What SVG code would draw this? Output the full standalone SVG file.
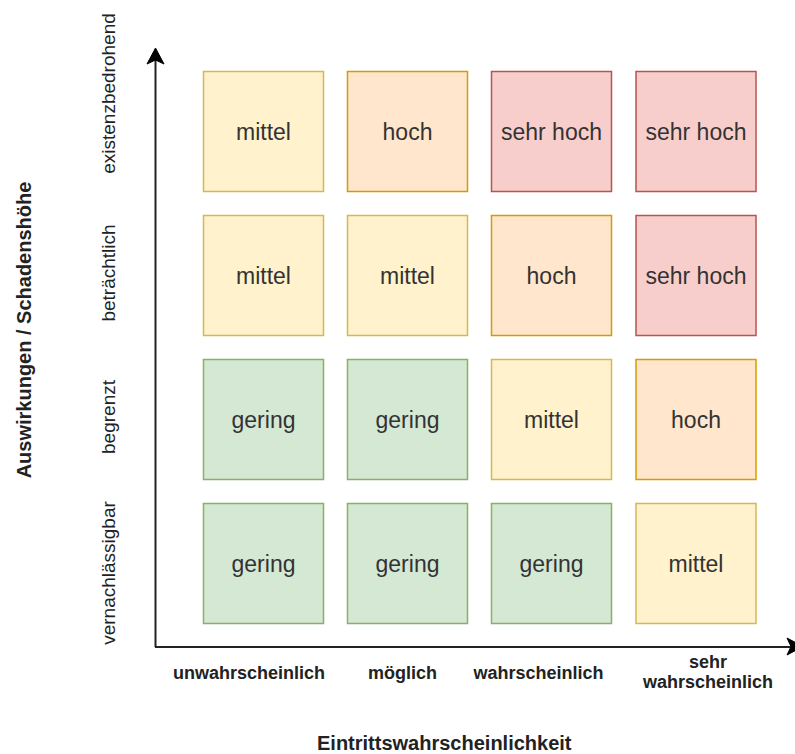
<svg xmlns="http://www.w3.org/2000/svg" width="795" height="754" viewBox="0 0 795 754">
<style>
.cell{stroke-width:1.5}
.y{fill:#fff2cc;stroke:#d6b656}
.o{fill:#ffe6cc;stroke:#d79b00}
.r{fill:#f8cecc;stroke:#b85450}
.g{fill:#d5e8d4;stroke:#82b366}
.ct{font-family:"Liberation Sans",Arial,sans-serif;font-size:23px;fill:#333;text-anchor:middle}
.rl{font-family:"Liberation Sans",Arial,sans-serif;font-size:19px;fill:#222;text-anchor:middle}
.cl{font-family:"Liberation Sans",Arial,sans-serif;font-size:18px;font-weight:bold;fill:#222;text-anchor:middle}
.ti{font-family:"Liberation Sans",Arial,sans-serif;font-size:20px;font-weight:bold;fill:#222}
.ax{stroke:#222;stroke-width:2;fill:none}
.ah{fill:#000;stroke:#000;stroke-width:1}
</style>
<rect width="795" height="754" fill="#fff"/>
<g id="connectors">
<path class="ax" d="M155.5 647 L155.5 58"/>
<path class="ax" d="M155 647 L792 647"/>
<path class="ah" d="M155.5 48 L164 64 L155.5 60 L147 64 Z"/>
<path class="ah" d="M803 646.5 L787 638 L791 646.5 L787 655 Z"/>
</g>
<g id="cell-1-1"><rect class="cell y" x="203.5" y="71.5" width="120" height="120"/><text class="ct" x="263.5" y="139.5">mittel</text></g>
<g id="cell-1-2"><rect class="cell o" x="347.5" y="71.5" width="120" height="120"/><text class="ct" x="407.5" y="139.5">hoch</text></g>
<g id="cell-1-3"><rect class="cell r" x="491.5" y="71.5" width="120" height="120"/><text class="ct" x="551.5" y="139.5">sehr hoch</text></g>
<g id="cell-1-4"><rect class="cell r" x="636" y="71.5" width="120" height="120"/><text class="ct" x="696" y="139.5">sehr hoch</text></g>
<g id="cell-2-1"><rect class="cell y" x="203.5" y="215.5" width="120" height="120"/><text class="ct" x="263.5" y="283.5">mittel</text></g>
<g id="cell-2-2"><rect class="cell y" x="347.5" y="215.5" width="120" height="120"/><text class="ct" x="407.5" y="283.5">mittel</text></g>
<g id="cell-2-3"><rect class="cell o" x="491.5" y="215.5" width="120" height="120"/><text class="ct" x="551.5" y="283.5">hoch</text></g>
<g id="cell-2-4"><rect class="cell r" x="636" y="215.5" width="120" height="120"/><text class="ct" x="696" y="283.5">sehr hoch</text></g>
<g id="cell-3-1"><rect class="cell g" x="203.5" y="359.5" width="120" height="120"/><text class="ct" x="263.5" y="427.5">gering</text></g>
<g id="cell-3-2"><rect class="cell g" x="347.5" y="359.5" width="120" height="120"/><text class="ct" x="407.5" y="427.5">gering</text></g>
<g id="cell-3-3"><rect class="cell y" x="491.5" y="359.5" width="120" height="120"/><text class="ct" x="551.5" y="427.5">mittel</text></g>
<g id="cell-3-4"><rect class="cell o" x="636" y="359.5" width="120" height="120"/><text class="ct" x="696" y="427.5">hoch</text></g>
<g id="cell-4-1"><rect class="cell g" x="203.5" y="503.5" width="120" height="120"/><text class="ct" x="263.5" y="571.5">gering</text></g>
<g id="cell-4-2"><rect class="cell g" x="347.5" y="503.5" width="120" height="120"/><text class="ct" x="407.5" y="571.5">gering</text></g>
<g id="cell-4-3"><rect class="cell g" x="491.5" y="503.5" width="120" height="120"/><text class="ct" x="551.5" y="571.5">gering</text></g>
<g id="cell-4-4"><rect class="cell y" x="636" y="503.5" width="120" height="120"/><text class="ct" x="696" y="571.5">mittel</text></g>
<g id="row-labels">
<text class="rl" transform="translate(115,93.5) rotate(-90)">existenzbedrohend</text>
<text class="rl" transform="translate(115,273) rotate(-90)">beträchtlich</text>
<text class="rl" transform="translate(115,417) rotate(-90)">begrenzt</text>
<text class="rl" transform="translate(115,573) rotate(-90)">vernachlässigbar</text>
</g>
<g id="col-labels">
<text class="cl" x="249" y="679">unwahrscheinlich</text>
<text class="cl" x="402.5" y="679">möglich</text>
<text class="cl" x="538.5" y="679">wahrscheinlich</text>
<text class="cl" x="708" y="668">sehr</text>
<text class="cl" x="708" y="688">wahrscheinlich</text>
</g>
<g id="axis-titles">
<text class="ti" x="317" y="750">Eintrittswahrscheinlichkeit</text>
<text class="ti" text-anchor="middle" transform="translate(31,330) rotate(-90)">Auswirkungen / Schadenshöhe</text>
</g>
</svg>
